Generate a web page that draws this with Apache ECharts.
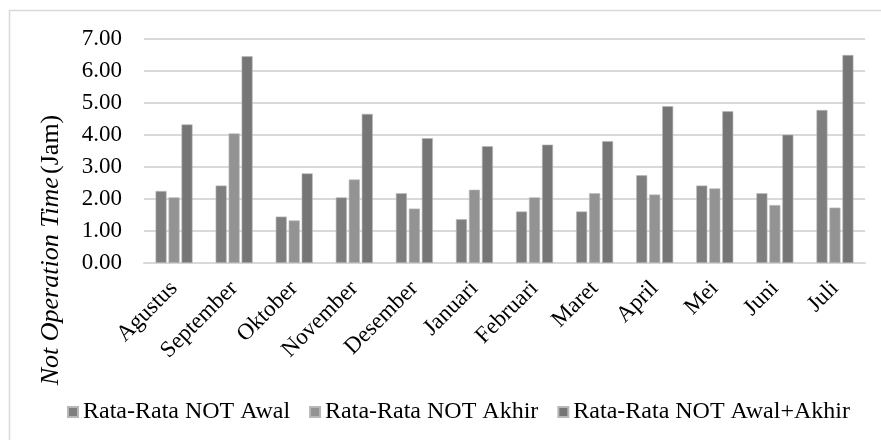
<!DOCTYPE html>
<html>
<head>
<meta charset="utf-8">
<script src="https://cdn.jsdelivr.net/npm/echarts@6/dist/echarts.min.js"></script>
<style>
  html, body { margin: 0; padding: 0; background: #ffffff; }
  #chart { width: 881px; height: 440px; }
</style>
</head>
<body>
<div id="chart"></div>
<script>
// Monthly averages of "Not Operation Time" (hours)
var months = ['Agustus', 'September', 'Oktober', 'November', 'Desember', 'Januari',
              'Februari', 'Maret', 'April', 'Mei', 'Juni', 'Juli'];
var notAwal  = [2.25, 2.42, 1.45, 2.05, 2.18, 1.37, 1.61, 1.61, 2.74, 2.42, 2.18, 4.78];
var notAkhir = [2.05, 4.05, 1.33, 2.61, 1.70, 2.29, 2.05, 2.18, 2.14, 2.33, 1.81, 1.73];
var notTotal = [4.33, 6.46, 2.80, 4.66, 3.90, 3.65, 3.70, 3.81, 4.90, 4.74, 4.01, 6.50];
var seriesNames = ['Rata-Rata NOT Awal', 'Rata-Rata NOT Akhir', 'Rata-Rata NOT Awal+Akhir'];
var yTicks = { min: 0, max: 7, interval: 1 };

var FONT = '"Liberation Serif", "Times New Roman", serif';
var colors = ['#7f7f7f', '#939393', '#767676'];

var chart = echarts.init(document.getElementById('chart'), null, { renderer: 'canvas' });

function barSeries(name, data, color) {
  return {
    name: name,
    type: 'bar',
    data: data,
    barWidth: 11,
    barGap: '18%',
    itemStyle: { color: color, borderColor: '#b8b8b8', borderWidth: 0.6 }
  };
}

chart.setOption({
  animation: false,
  backgroundColor: '#ffffff',
  color: colors,
  textStyle: { fontFamily: FONT },
  graphic: [
    {
      type: 'rect',
      shape: { x: 9.5, y: 10.5, width: 900, height: 460 },
      style: { fill: 'none', stroke: '#d9d9d9', lineWidth: 1.5 },
      silent: true, z: -1
    },
    {
      type: 'text',
      x: 51, y: 250,
      rotation: Math.PI / 2,
      style: {
        text: '{i|Not Operation Time} {n|(Jam)}',
        align: 'center',
        verticalAlign: 'middle',
        rich: {
          i: { fontFamily: FONT, fontStyle: 'italic', fontSize: 26, fill: '#000' },
          n: { fontFamily: FONT, fontSize: 26, fill: '#000' }
        }
      }
    }
  ],
  grid: { left: 144, right: 16, top: 39, bottom: 177 },
  legend: {
    data: seriesNames,
    left: 62,
    top: 395,
    icon: 'rect',
    itemWidth: 10,
    itemHeight: 10,
    itemGap: 19,
    textStyle: { fontFamily: FONT, fontSize: 24, color: '#000' }
  },
  xAxis: {
    type: 'category',
    data: months,
    axisLine: { lineStyle: { color: '#d9d9d9', width: 2 } },
    axisTick: { show: false },
    axisLabel: {
      rotate: 45,
      interval: 0,
      margin: 22,
      fontFamily: FONT,
      fontSize: 23,
      color: '#000'
    }
  },
  yAxis: {
    type: 'value',
    min: yTicks.min,
    max: yTicks.max,
    interval: yTicks.interval,
    axisLine: { show: false },
    axisTick: { show: false },
    splitLine: { lineStyle: { color: '#d9d9d9', width: 2 } },
    axisLabel: {
      margin: 22,
      fontFamily: FONT,
      fontSize: 23,
      color: '#000',
      formatter: function (v) { return v.toFixed(2); }
    }
  },
  series: [
    barSeries(seriesNames[0], notAwal, colors[0]),
    barSeries(seriesNames[1], notAkhir, colors[1]),
    barSeries(seriesNames[2], notTotal, colors[2])
  ]
});
</script>
</body>
</html>
